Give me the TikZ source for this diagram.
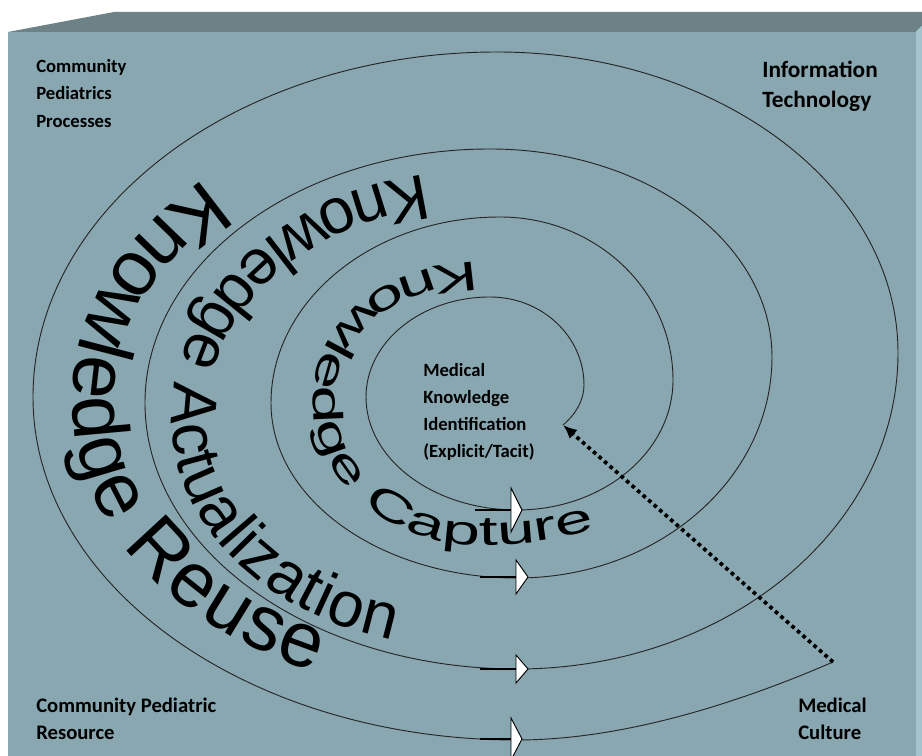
\documentclass[tikz,border=0pt]{standalone}
\usepackage{fontspec}
\setmainfont{Carlito}
\newfontfamily\arcfont{Liberation Sans}
\newfontfamily\arcwidefont[FakeStretch=1.65]{Liberation Sans}
\usepackage{xcolor}
\usepackage{tikz}
\usetikzlibrary{decorations.text,arrows.meta}

\definecolor{boxfront}{RGB}{137,167,176}
\definecolor{boxtop}{RGB}{108,130,135}
\definecolor{boxside}{RGB}{163,196,204}

\begin{document}
\begin{tikzpicture}[x=0.75pt,y=0.75pt,
  lbl/.style={anchor=north west, inner sep=0pt, align=left},
  spiral/.style={line width=0.7pt, color=black!85},
  shaft/.style={line width=1.5pt},
  flowtip/.style={draw=black, fill=white, line width=0.7pt, line join=miter},
  dotarrow/.style={line width=2.8pt, dash pattern=on 2.8pt off 2.7pt, -{Latex[length=10.5pt,width=9pt]}}]
\useasboundingbox (0,0) rectangle (922,756);
\fill [white] (0,0) rectangle (922,756);

%Box faces
\fill [boxfront] (8,0) rectangle (916,724);
\fill [boxtop] (8,724) -- (114,744) -- (922,744) -- (922,730) -- (916,724) -- cycle;
\fill [boxside] (916,724) -- (922,730) -- (922,0) -- (916,0) -- cycle;

\coordinate (innerEnd) at (563,331);
\coordinate (outerEnd) at (833,94);

%Curve Lines
\draw [spiral] (innerEnd) .. controls (576,342) and (584,356) .. (584,371)
  .. controls (584,419.6) and (541.9,459) .. (490,459)
  .. controls (421.5,459) and (366,414.2) .. (366,359)
  .. controls (366,296.6) and (433.6,246) .. (517,246)
  .. controls (603.2,246) and (673,304.2) .. (673,376)
  .. controls (673,466) and (595.5,539) .. (500,539)
  .. controls (373.5,539) and (271,455.7) .. (271,353)
  .. controls (271,256.3) and (381.1,178) .. (517,178)
  .. controls (657.8,178) and (772,276.9) .. (772,399)
  .. controls (772,513.9) and (645.7,607) .. (490,607)
  .. controls (299.5,607) and (145,493.3) .. (145,353)
  .. controls (145,206.1) and (311.5,87) .. (517,87)
  .. controls (727.4,87) and (898,228.5) .. (898,403)
  .. controls (898,569.2) and (718.5,704) .. (497,704)
  .. controls (240.7,704) and (33,549.5) .. (33,359)
  .. controls (33,169.6) and (249.7,16) .. (517,16)
  .. controls (630,16) and (750,58) .. (outerEnd);

%Text along the loops
\path [decorate, decoration={text along path, text align={fit to path},
  text={|\arcwidefont\fontsize{31pt}{31pt}\selectfont|Knowledge Capture}}]
  (477,493) .. controls (385.5,493) and (313,431.7) .. (313,356)
  .. controls (313,275.9) and (387.8,211) .. (480,211)
  .. controls (520,211) and (560,216) .. (592,226);
\path [decorate, decoration={text along path, text align={fit to path},
  text={|\arcfont\fontsize{48pt}{48pt}\selectfont|Knowledge Actualization}}]
  (425,581) arc [start angle=98.7, end angle=180, x radius=298, y radius=248]
  arc [start angle=180, end angle=255, x radius=298, y radius=228];
\path [decorate, decoration={text along path, text align={fit to path},
  text={|\arcfont\fontsize{58.5pt}{58.5pt}\selectfont|Knowledge Reuse}}]
  (205,577) arc [start angle=131.8, end angle=247, x radius=398, y radius=296];

%Flow arrows
\draw [shaft] (475,246) -- (511,246);
\draw [flowtip] (511,268) -- (522,246) -- (511,224) -- cycle;
\draw [shaft] (480,179) -- (516,179);
\draw [flowtip] (516,196) -- (528,179) -- (516,162) -- cycle;
\draw [shaft] (480,87) -- (516,87);
\draw [flowtip] (516,101) -- (528,87) -- (516,73) -- cycle;
\draw [shaft] (480,17) -- (511,17);
\draw [flowtip] (511,38) -- (522,17) -- (511,-4) -- cycle;

%Dotted link
\draw [dotarrow] (outerEnd) -- (innerEnd);

% Text Node
\node [lbl, font=\fontsize{14pt}{20.6pt}\selectfont\bfseries] (processes) at (36,697) {Community\\Pediatrics\\Processes};
% Text Node
\node [lbl, font=\fontsize{17.5pt}{22.5pt}\selectfont\bfseries] (infotech) at (762,695) {Information\\Technology};
% Text Node
\node [lbl, font=\fontsize{14pt}{20.3pt}\selectfont\bfseries] (identify) at (423,393) {Medical\\Knowledge\\Identification\\(Explicit/Tacit)};
% Text Node
\node [lbl, font=\fontsize{15.5pt}{20pt}\selectfont\bfseries] (resource) at (36,58) {Community Pediatric\\Resource};
% Text Node
\node [lbl, font=\fontsize{15.5pt}{20pt}\selectfont\bfseries] (culture) at (798,58) {Medical\\Culture};

\end{tikzpicture}
\end{document}
